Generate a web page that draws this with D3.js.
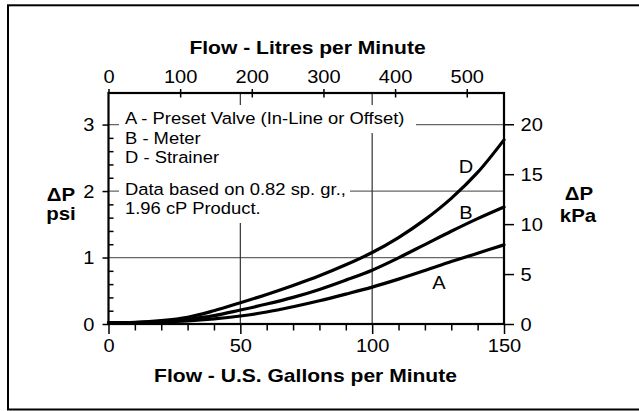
<!DOCTYPE html>
<html><head><meta charset="utf-8">
<script src="https://cdn.jsdelivr.net/npm/d3@7"></script>
<style>
html,body{margin:0;padding:0;background:#fff;}
svg{display:block;font-family:"Liberation Sans",Arial,Helvetica,sans-serif;}
</style></head>
<body>
<svg id="c" width="639" height="411"></svg>
<script>
// ---- data ----
const gpm       = [0,10,20,30,40,50,60,70,80,90,100,110,120,130,140,150];
const valveA    = [0.02,0.02,0.03,0.047,0.077,0.12,0.18,0.26,0.35,0.45,0.555,0.675,0.805,0.94,1.065,1.19];
const meterB    = [0.02,0.022,0.04,0.072,0.125,0.21,0.30,0.40,0.52,0.66,0.81,0.995,1.195,1.395,1.585,1.76];
const strainerD = [0.02,0.025,0.05,0.10,0.20,0.32,0.445,0.58,0.725,0.89,1.075,1.30,1.57,1.89,2.28,2.77];
const seriesNames = ["A","B","D"];
const legendLines = ["A - Preset Valve (In-Line or Offset)","B - Meter","D - Strainer"];
const noteLines = ["Data based on 0.82 sp. gr.,","1.96 cP Product."];
const gpmTicks = [0,50,100,150];
const gpmMinor = [10,20,30,40,60,70,80,90,110,120,130,140];
const lpmTicks = [0,100,200,300,400,500];
const psiTicks = [0,1,2,3];
const psiMinor = [0.2,0.4,0.6,0.8,1.2,1.4,1.6,1.8,2.2,2.4,2.6,2.8];
const kpaTicks = [0,5,10,15,20];

const svg = d3.select("#c");
const L = 108.5, R = 504, T = 93, B = 324;
const x  = d3.scaleLinear().domain([0,150]).range([L,R]);
const xL = d3.scaleLinear().domain([0,552]).range([L,R]);
const y  = d3.scaleLinear().domain([0,3.475]).range([B,T]);
const yK = d3.scaleLinear().domain([0,23.13]).range([B,T]);
const SX = 1.115, SXB = 1.17;

// frame
svg.append("rect").attr("x",8).attr("y",5.3).attr("width",640).attr("height",404.2)
  .attr("fill","none").attr("stroke","#000").attr("stroke-width",2);

// gridlines
const grid = svg.append("g");
[1,2,3].forEach(v=>{
  grid.append("line").attr("x1",L).attr("x2",R).attr("y1",y(v)).attr("y2",y(v))
    .attr("stroke","#666").attr("stroke-width",1.3);
});
[50,100].forEach(v=>{
  grid.append("line").attr("x1",x(v)).attr("x2",x(v)).attr("y1",T).attr("y2",B)
    .attr("stroke","#333").attr("stroke-width",1.2);
});

// white backgrounds behind legend/note text
svg.append("rect").attr("x",119).attr("y",105).attr("width",297).attr("height",28).attr("fill","#fff");
svg.append("rect").attr("x",119).attr("y",105).attr("width",231).attr("height",118).attr("fill","#fff");

function txt(xp,yp,s,opt){
  opt = opt||{};
  const t = svg.append("text")
    .attr("transform",`translate(${xp},${yp}) scale(${opt.sx||SX},1)`)
    .attr("font-size",opt.size||16.5)
    .attr("font-weight",opt.bold?"bold":"normal")
    .attr("text-anchor",opt.anchor||"start")
    .attr("fill","#000").text(s);
  return t;
}
legendLines.forEach((s,i)=> txt(125, 124 + i*19.6, s));
noteLines.forEach((s,i)=> txt(125, 195 + i*18.5, s));

// curves
const line = d3.line().x((d,i)=>x(gpm[i])).y(d=>y(d)).curve(d3.curveCatmullRom.alpha(0.5));
[valveA, meterB, strainerD].forEach(vals=>{
  svg.append("path").attr("d",line(vals)).attr("fill","none")
    .attr("stroke","#000").attr("stroke-width",3.2).attr("stroke-linecap","round");
});
txt(466,172.7,"D",{size:18,anchor:"middle"});
txt(466,219.3,"B",{size:18,anchor:"middle"});
txt(439,289.3,"A",{size:18,anchor:"middle"});

function styleAxis(g){
  g.select(".domain").remove();
  g.selectAll(".tick line").attr("stroke","#000").attr("stroke-width",1.5);
  g.selectAll("text").attr("font-size",18).attr("font-family","'Liberation Sans',Arial,sans-serif").attr("fill","#000");
}

// bottom axis
const gb = svg.append("g").attr("transform",`translate(0,${B})`)
  .call(d3.axisBottom(x).tickValues(gpmTicks).tickSize(10).tickFormat(d3.format("d")));
styleAxis(gb);
gb.selectAll("text").attr("y",28).attr("dy",0).attr("transform",`scale(${SX},1)`);
const gbm = svg.append("g").attr("transform",`translate(0,${B})`)
  .call(d3.axisBottom(x).tickValues(gpmMinor).tickSize(6.5).tickFormat(""));
styleAxis(gbm);

// top axis
const gt = svg.append("g").attr("transform",`translate(0,${T})`)
  .call(d3.axisTop(xL).tickValues(lpmTicks).tickSize(4).tickFormat(d3.format("d")));
styleAxis(gt);
gt.selectAll("text").attr("y",-10.3).attr("dy",0).attr("transform",`scale(${SX},1)`);
const gti = svg.append("g").attr("transform",`translate(0,${T})`)
  .call(d3.axisBottom(xL).tickValues(lpmTicks.slice(1)).tickSize(4.5).tickFormat(""));
styleAxis(gti);

// left axis
const gl = svg.append("g").attr("transform",`translate(${L},0)`)
  .call(d3.axisLeft(y).tickValues(psiTicks).tickSize(6).tickFormat(d3.format("d")));
styleAxis(gl);
gl.selectAll("text").attr("x",-14/SX).attr("y",6.3).attr("dy",0).attr("transform",`scale(${SX},1)`);
const glm = svg.append("g").attr("transform",`translate(${L},0)`)
  .call(d3.axisRight(y).tickValues(psiMinor).tickSize(5).tickFormat(""));
styleAxis(glm);

// right axis
const gr = svg.append("g").attr("transform",`translate(${R},0)`)
  .call(d3.axisRight(yK).tickValues(kpaTicks).tickSize(10).tickFormat(d3.format("d")));
styleAxis(gr);
gr.selectAll("text").attr("x",16.5/SX).attr("y",6.3).attr("dy",0).attr("transform",`scale(${SX},1)`);

// plot frame
svg.append("rect").attr("x",L).attr("y",T).attr("width",R-L).attr("height",B-T)
  .attr("fill","none").attr("stroke","#000").attr("stroke-width",2.2);

// titles
txt(307.5,54,"Flow - Litres per Minute",{size:18,bold:true,anchor:"middle",sx:SXB});
txt(305.5,381.7,"Flow - U.S. Gallons per Minute",{size:18,bold:true,anchor:"middle",sx:SXB});
txt(61,200.5,"\u0394P",{size:17.5,bold:true,anchor:"middle",sx:SXB});
txt(61,220,"psi",{size:17.5,bold:true,anchor:"middle",sx:SXB});
txt(579,200,"\u0394P",{size:17.5,bold:true,anchor:"middle",sx:SXB});
txt(578,221.7,"kPa",{size:17.5,bold:true,anchor:"middle",sx:SXB});
</script>
</body></html>
